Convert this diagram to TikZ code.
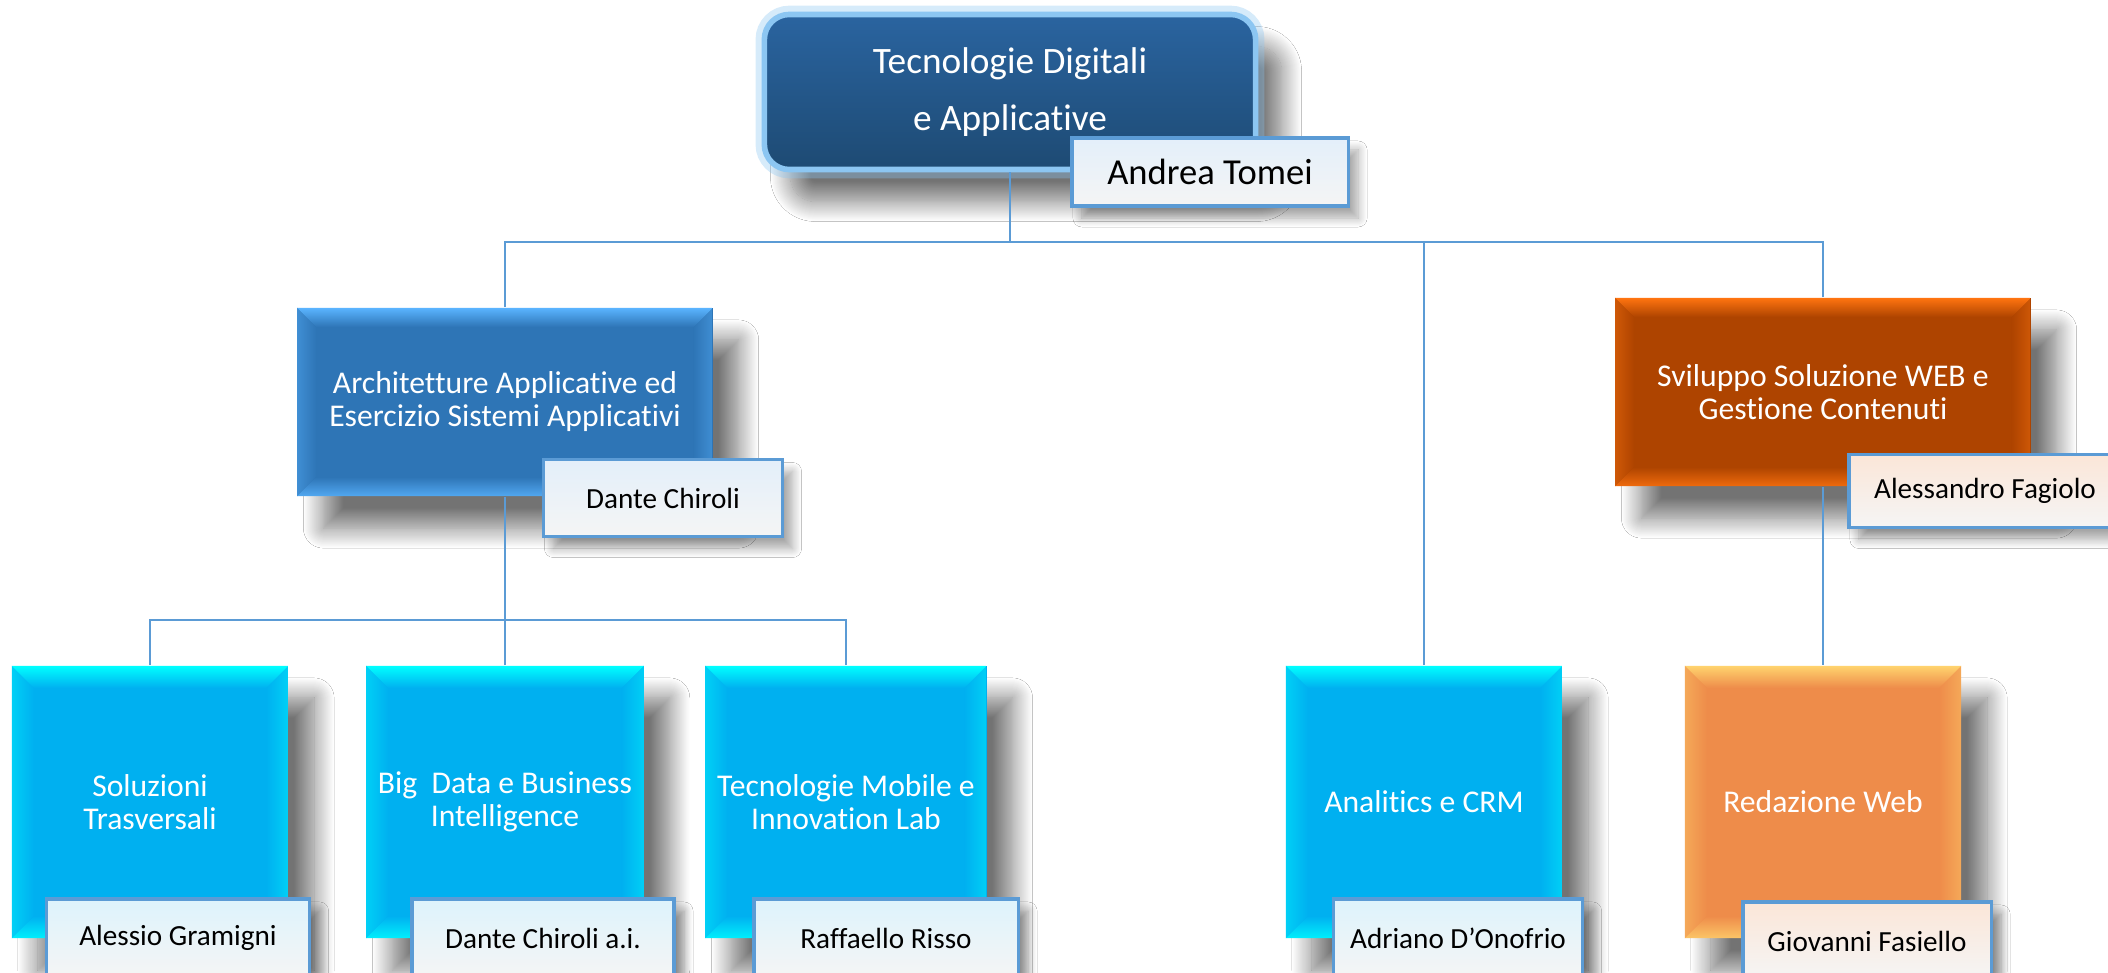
\documentclass[tikz,border=0pt]{standalone}
\usepackage{fontspec}
\setmainfont{Carlito}[Ligatures=NoCommon]
\usetikzlibrary{shadows.blur}

\definecolor{navy}{HTML}{1F4E79}
\definecolor{navyhi}{HTML}{2A64A0}
\definecolor{glowblue}{HTML}{8CC6F2}
\definecolor{lineblue}{HTML}{5B9BD5}
\definecolor{midblue}{HTML}{2E75B6}
\definecolor{midbluehi}{HTML}{5AB4FF}
\definecolor{cyanbox}{HTML}{00B0F0}
\definecolor{cyanboxhi}{HTML}{00FFFF}
\definecolor{rust}{HTML}{AE4400}
\definecolor{rusthi}{HTML}{FF7410}
\definecolor{peach}{HTML}{EE8C4A}
\definecolor{peachhi}{HTML}{FFD36E}
\definecolor{tintblue}{HTML}{E3EFFA}
\definecolor{tintcyan}{HTML}{DDF3FC}
\definecolor{tintpeach}{HTML}{FBE6D8}

\tikzset{
  bevel/.style n args={3}{fill=#1, path picture={
      \coordinate (pnw) at (path picture bounding box.north west);
      \coordinate (pne) at (path picture bounding box.north east);
      \coordinate (psw) at (path picture bounding box.south west);
      \coordinate (pse) at (path picture bounding box.south east);
      \shade[left color=#2!40!#1, right color=#1] (pnw) -- ([shift={(#3,-#3)}]pnw) -- ([shift={(#3,#3)}]psw) -- (psw) -- cycle;
      \shade[right color=#2!40!#1, left color=#1] (pne) -- ([shift={(-#3,-#3)}]pne) -- ([shift={(-#3,#3)}]pse) -- (pse) -- cycle;
      \shade[top color=#2, bottom color=#1] (pnw) -- (pne) -- ([shift={(-#3,-#3)}]pne) -- ([shift={(#3,-#3)}]pnw) -- cycle;
      \shade[bottom color=#2!80!#1, top color=#1] (psw) -- (pse) -- ([shift={(-#3,#3)}]pse) -- ([shift={(#3,#3)}]psw) -- cycle;
    }},
  dropshadow/.style={blur shadow={shadow xshift=0.26cm, shadow yshift=-0.32cm,
      shadow blur radius=0.2cm, shadow blur steps=20, shadow opacity=55}},
  title/.style={text=white, align=center, font=\fontsize{9}{9.4}\selectfont},
  namebox/.style={draw=lineblue, line width=0.9pt, top color=#1, bottom color=white!96!black,
      text=black, font=\fontsize{8.3}{10}\selectfont,
      blur shadow={shadow xshift=0.1cm, shadow yshift=-0.12cm, shadow blur radius=0.09cm,
        shadow blur steps=10, shadow opacity=35}}
}

\begin{document}
\begin{tikzpicture}[x=0.01cm, y=-0.01cm,
  conn/.style={draw=lineblue, line width=0.6pt},
  topbox/.style={rounded corners=0.25cm, draw=glowblue, line width=1.6pt,
      top color=navyhi, middle color=navy, bottom color=navy!95!black,
      text=white, align=center, font=\fontsize{10.6}{16.2}\selectfont,
      dropshadow, preaction={draw=glowblue, line width=5pt, draw opacity=0.35}},
  midbox/.style={bevel={#1}{#1hi}{0.19cm}, dropshadow, title,
      minimum width=4.15cm, minimum height=1.88cm},
  lowbox/.style={bevel={#1}{#1hi}{0.22cm}, dropshadow, title,
      minimum width=2.76cm, minimum height=2.72cm}]
\fill[white] (0,0) rectangle (2108,973);
\clip (0,0) rectangle (2108,973);

\node[topbox, minimum width=4.91cm, minimum height=1.55cm] (tda) at (1010,92) {Tecnologie Digitali\\e Applicative};
\node[namebox=tintblue, font=\fontsize{10.4}{12}\selectfont, minimum width=2.76cm, minimum height=0.68cm] (tomei) at (1210,172) {Andrea Tomei};

\node[midbox=midblue] (aaes) at (505,402) {Architetture Applicative ed\\Esercizio Sistemi Applicativi};
\node[namebox=tintblue, minimum width=2.39cm, minimum height=0.77cm] (chiroli) at (663,498) {Dante Chiroli};

\node[midbox=rust] (swgc) at (1823,392) {Sviluppo Soluzione WEB e\\Gestione Contenuti};
\node[namebox=tintpeach, minimum width=2.72cm, minimum height=0.73cm] (fagiolo) at (1985,491) {Alessandro Fagiolo};

\node[lowbox=cyanbox] (soltr) at (150,802) {Soluzioni\\Trasversali};
\node[namebox=tintcyan, minimum width=2.63cm, minimum height=0.78cm] (gramigni) at (178,938) {Alessio Gramigni};

\node[lowbox=cyanbox] (bdbi) at (505,802) {Big\ \ Data e Business\\Intelligence};
\node[namebox=tintcyan, minimum width=2.62cm, minimum height=0.78cm] (chiroliai) at (543,938) {Dante Chiroli a.i.};

\node[lowbox=cyanbox] (tmil) at (846,802) {Tecnologie Mobile e\\Innovation Lab};
\node[namebox=tintcyan, minimum width=2.64cm, minimum height=0.78cm] (risso) at (886,938) {Raffaello Risso};

\node[lowbox=cyanbox] (acrm) at (1424,802) {Analitics e CRM};
\node[namebox=tintcyan, minimum width=2.49cm, minimum height=0.78cm] (donofrio) at (1458,938) {Adriano D’Onofrio};

\node[lowbox=peach] (redweb) at (1823,802) {Redazione Web};
\node[namebox=tintpeach, minimum width=2.48cm, minimum height=0.78cm] (fasiello) at (1867,941) {Giovanni Fasiello};

\coordinate (hub) at (1010,242);
\coordinate (hubaa) at (505,620);
\draw[conn] (tda.south) -- (hub);
\draw[conn] (aaes.north) |- (hub);
\draw[conn] (acrm.north) |- (hub);
\draw[conn] (swgc.north) |- (hub);
\draw[conn] (aaes.south) -- (hubaa);
\draw[conn] (soltr.north) |- (hubaa);
\draw[conn] (bdbi.north) -- (hubaa);
\draw[conn] (tmil.north) |- (hubaa);
\draw[conn] (swgc.south) -- (redweb.north);
\end{tikzpicture}
\end{document}
